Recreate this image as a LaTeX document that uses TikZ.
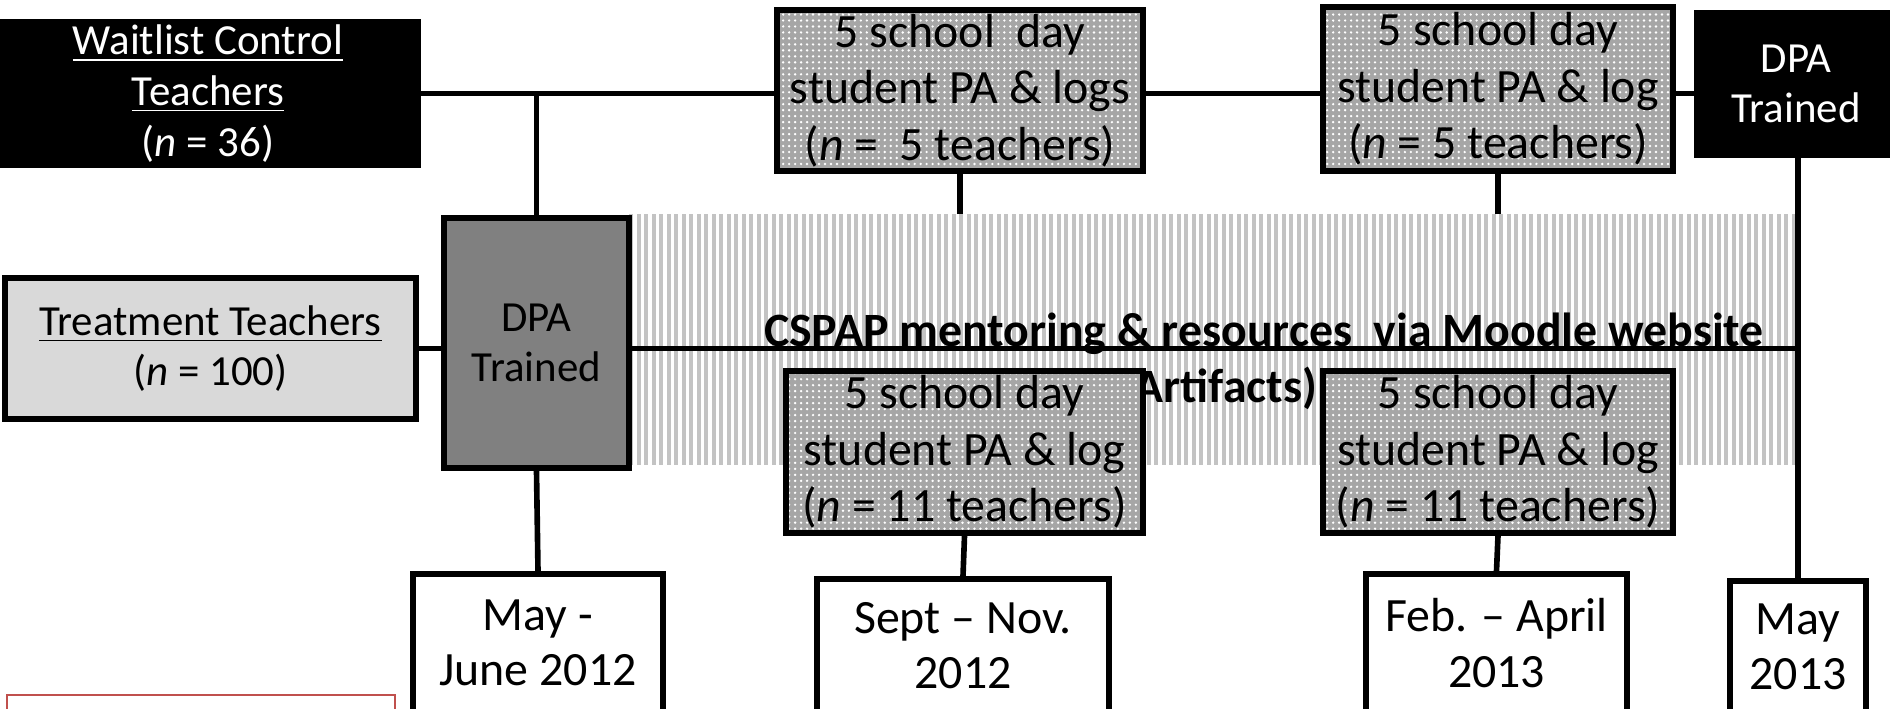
\documentclass[tikz,border=0pt]{standalone}
\usepackage{fontspec}
\setmainfont{Carlito}
\usetikzlibrary{positioning, patterns}
\definecolor{tlDots}{HTML}{A6A6A6}
\definecolor{tlDark}{HTML}{808080}
\definecolor{tlLight}{HTML}{D9D9D9}
\definecolor{tlStripe}{HTML}{C3C3C3}
\definecolor{tlRed}{HTML}{C0504D}

% small white dots for the data collection boxes
\pgfdeclarepatternformonly{finedots}{\pgfpoint{-0.5pt}{-0.5pt}}{\pgfpoint{0.5pt}{0.5pt}}{\pgfpoint{1.7pt}{1.7pt}}{\pgfpathcircle{\pgfpointorigin}{0.38pt}\pgfusepath{fill}}

\tikzset{
	box/.style={draw=black, line width=1.6pt, inner sep=0pt, align=center,
		font=\fontsize{12.2}{14.4}\selectfont},
	darkbox/.style={box, fill=black, text=white},
	logbox/.style={box, preaction={fill=tlDots}, pattern=finedots, pattern color=white,
		font=\fontsize{13.6}{16.1}\selectfont},
	datebox/.style={box, fill=white, font=\fontsize{13.6}{15.7}\selectfont},
	band text/.style={inner sep=0pt, font=\bfseries\fontsize{13.6}{16}\selectfont},
	link/.style={line width=1.6pt},
}

\begin{document}
\begin{tikzpicture}[x=0.01cm, y=-0.01cm]
	\useasboundingbox (0,0) rectangle (1890,708);

	% striped band behind the mentoring period
	\coordinate (bandNE) at (1796,214);
	\foreach \i in {0,...,155}
		\fill[tlStripe] ({629+\i*7.5},214) rectangle ++(4,251);

	\node[band text, anchor=base] (cspap) at (1264,346)
		{CSPAP mentoring \& resources~ via Moodle website};
	\node[band text, anchor=base east] (artif) at (1318,402)
		{Artifacts)};

	% groups
	\node[darkbox, minimum width=4.2cm, minimum height=1.43cm] (wait) at (208,93.5)
		{\underline{Waitlist Control}\\ \underline{Teachers}\\ (\textit{n} = 36)};
	\node[box, fill=tlLight, minimum width=4.11cm, minimum height=1.41cm] (treat) at (210.5,348.5)
		{\underline{Treatment Teachers}\\ (\textit{n} = 100)};

	% training
	\node[box, fill=tlDark, minimum width=1.85cm, minimum height=2.5cm] (dpaL) at (536.5,343)
		{DPA\\ Trained};
	\node[darkbox, minimum width=1.98cm, minimum height=1.42cm] (dpaR) at (1796,84)
		{DPA\\ Trained};

	% student PA and logs
	\node[logbox, minimum width=3.66cm, minimum height=1.61cm] (top1) at (960,90.5)
		{5 school~ day\\ student PA \& logs\\ (\textit{n} =~ 5 teachers)};
	\node[logbox, minimum width=3.5cm, minimum height=1.64cm] (top2) at (1498,89)
		{5 school day\\ student PA \& log\\ (\textit{n} = 5 teachers)};
	\node[logbox, minimum width=3.57cm, minimum height=1.62cm] (low1) at (964.5,452)
		{5 school day\\ student PA \& log\\ (\textit{n} = 11 teachers)};
	\node[logbox, minimum width=3.5cm, minimum height=1.62cm] (low2) at (1498,452)
		{5 school day\\ student PA \& log\\ (\textit{n} = 11 teachers)};

	% dates
	\node[datebox, minimum width=2.5cm, minimum height=1.38cm] (may1) at (538,643)
		{May -\\ June 2012};
	\node[datebox, minimum width=2.92cm, minimum height=1.33cm] (sept) at (963,645.5)
		{Sept -- Nov.\\ 2012};
	\node[datebox, minimum width=2.61cm, minimum height=1.38cm] (feb) at (1496.5,643)
		{Feb. -- April\\ 2013};
	\node[datebox, minimum width=1.36cm, minimum height=1.31cm] (may2) at (1798,646.5)
		{May\\ 2013};

	% connectors
	\draw[link] (wait.east) -- (wait.east -| top1.west);
	\draw[link] (top1.east |- wait.east) -- (wait.east -| top2.west);
	\draw[link] (top2.east |- wait.east) -- (wait.east -| dpaR.west);
	\draw[link] (dpaL.north |- wait.east) -- (dpaL.north);
	\draw[link] (treat.east) -- (treat.east -| dpaL.west);
	\draw[link] (dpaL.east |- treat.east) -- (treat.east -| bandNE);
	\draw[link] (top1.south) -- (top1.south |- bandNE);
	\draw[link] (top2.south) -- (top2.south |- bandNE);
	\draw[link] (dpaL.south) -- (may1.north);
	\draw[link] (low1.south) -- (sept.north);
	\draw[link] (low2.south) -- (feb.north);
	\draw[link] (may2.north |- dpaR.south) -- (may2.north);

	\draw[tlRed, line width=0.4pt] (7,695) rectangle (395,720);
\end{tikzpicture}
\end{document}
